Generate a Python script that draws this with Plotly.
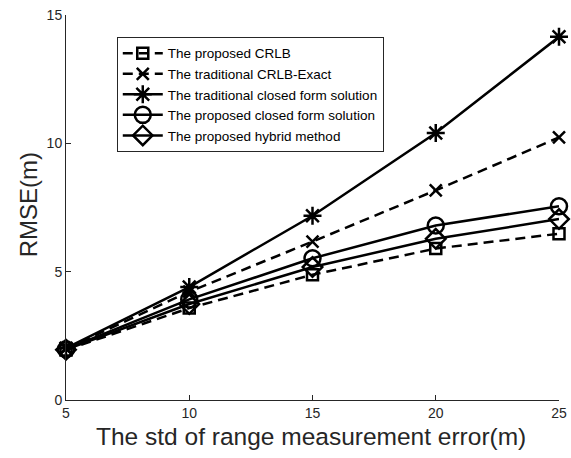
import plotly.graph_objects as go

# range measurement error std (m)
std_err = [5, 10, 15, 20, 25]

# RMSE (m) of each estimator / bound
crlb_proposed = [1.95, 3.58, 4.88, 5.90, 6.48]
crlb_traditional = [2.0, 4.22, 6.17, 8.17, 10.23]
closed_traditional = [2.02, 4.40, 7.18, 10.40, 14.15]
closed_proposed = [1.98, 3.92, 5.52, 6.80, 7.55]
hybrid_proposed = [1.96, 3.74, 5.18, 6.28, 7.05]

series_names = [
    "The proposed CRLB",
    "The traditional CRLB-Exact",
    "The traditional closed form solution",
    "The proposed closed form solution",
    "The proposed hybrid method",
]
x_ticks = [5, 10, 15, 20, 25]
y_ticks = [0, 5, 10, 15]
x_title = "The std of range measurement error(m)"
y_title = "RMSE(m)"

series = [
    (crlb_proposed, "square-open", "10px,6px", 11),
    (crlb_traditional, "x-thin-open", "10px,6px", 12),
    (closed_traditional, "asterisk-open", "solid", 15),
    (closed_proposed, "circle-open", "solid", 16),
    (hybrid_proposed, "diamond-open", "solid", 15),
]

fig = go.Figure()
for (vals, sym, dash, msize), name in zip(series, series_names):
    fig.add_trace(go.Scatter(
        x=std_err, y=vals, name=name, mode="lines+markers",
        line=dict(color="black", width=2.5, dash=dash),
        marker=dict(symbol=sym, size=msize, color="black",
                    line=dict(color="black", width=2.5)),
        cliponaxis=False,
    ))

font_family = "Liberation Sans, Arial, sans-serif"
axis_color = "#262626"
fig.update_layout(
    width=571, height=458,
    margin=dict(l=66, r=12, t=15, b=58, autoexpand=False),
    paper_bgcolor="white", plot_bgcolor="white",
    font=dict(family=font_family, color=axis_color),
    showlegend=True,
    legend=dict(
        x=0.103, y=0.943, xanchor="left", yanchor="top",
        bgcolor="white", bordercolor=axis_color, borderwidth=1,
        font=dict(size=13.5, color="black", family=font_family),
        tracegroupgap=0, itemwidth=40,
    ),
    xaxis=dict(
        range=[5, 25], tickvals=x_ticks, ticks="inside", ticklen=5,
        tickcolor=axis_color, showline=True, linecolor=axis_color, linewidth=1,
        showgrid=False, zeroline=False, automargin=False,
        tickfont=dict(size=14, color=axis_color),
    ),
    yaxis=dict(
        range=[0, 15], tickvals=y_ticks, ticks="inside", ticklen=5,
        tickcolor=axis_color, showline=True, linecolor=axis_color, linewidth=1,
        showgrid=False, zeroline=False, automargin=False,
        tickfont=dict(size=14, color=axis_color),
    ),
    annotations=[
        dict(text=x_title, xref="paper", yref="paper", x=0.497, y=-0.096,
             xanchor="center", yanchor="middle", showarrow=False,
             font=dict(size=24.5, color=axis_color)),
        dict(text=y_title, xref="paper", yref="paper", x=-0.077, y=0.506,
             xanchor="center", yanchor="middle", showarrow=False, textangle=-90,
             font=dict(size=24, color=axis_color)),
    ],
)

fig.write_html("out.html")
